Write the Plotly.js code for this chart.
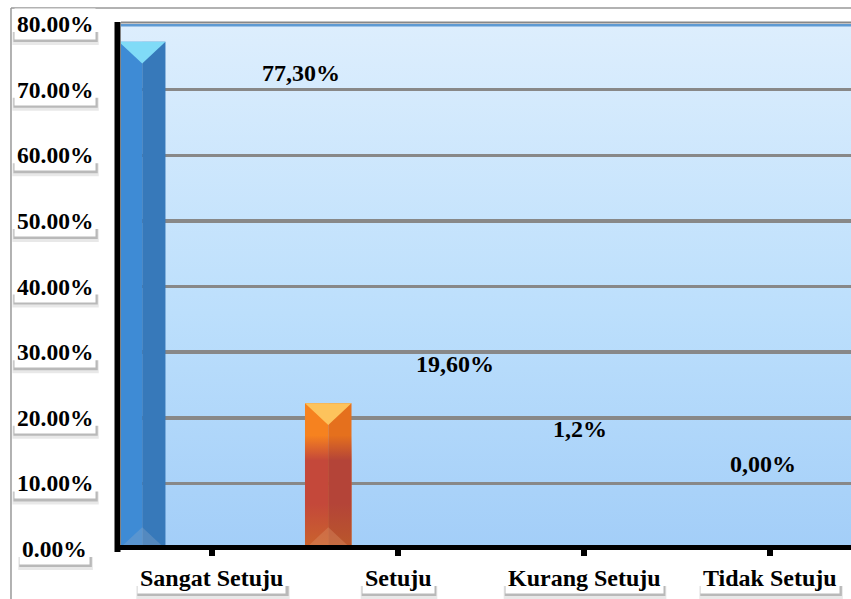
<!DOCTYPE html>
<html>
<head>
<meta charset="utf-8">
<script src="https://cdn.plot.ly/plotly-3.0.1.min.js"></script>
<style>html,body{margin:0;padding:0;background:#fff}#chart{width:851px;height:599px}</style>
</head>
<body>
<div id="chart"></div>
<script>
// ---- data ----
const categories = ['Sangat Setuju', 'Setuju', 'Kurang Setuju', 'Tidak Setuju'];
const barValues = [77.3, 22.2, 0, 0];
const valueLabels = ['77,30%', '19,60%', '1,2%', '0,00%'];
const yTickValues = [0, 10, 20, 30, 40, 50, 60, 70, 80];
const yTickLabels = ['0.00%', '10.00%', '20.00%', '30.00%', '40.00%', '50.00%', '60.00%', '70.00%', '80.00%'];

// ---- styles ----
const FONT = 'Liberation Serif';
const leftColors = ['#3e8bd5', '#f6821f', '#3e8bd5', '#3e8bd5'];
const rightColors = ['#3779ba', '#e5701d', '#3779ba', '#3779ba'];
const capColors = ['#80dbf7', '#fdc35c', '#80dbf7', '#80dbf7'];
const baseColors = ['rgba(140,170,200,0.35)', 'rgba(220,150,110,0.35)', 'rgba(0,0,0,0)', 'rgba(0,0,0,0)'];
const redShade = [false, true, false, false];
// placement (axis units) of the free-floating value labels
const labelOffsetX = [0.478, 0.306, -0.022, -0.038];
const labelPosY = [72.5, 28.2, 18.3, 13.0];

const XR = [-0.489, 3.435], YR = [0, 80];
const OFF = -0.5, HALF = 0.125, CAP = 3.3;

const cv = document.createElement('canvas').getContext('2d');
function textW(t, size) { cv.font = 'bold ' + size + 'px "Liberation Serif"'; return cv.measureText(t).width; }

const traces = [];
traces.push({
  type: 'bar', x: categories.map((c, i) => i), y: barValues,
  offset: OFF, width: HALF, marker: {color: leftColors, line: {width: 0}},
  hoverinfo: 'skip', showlegend: false
});
traces.push({
  type: 'bar', x: categories.map((c, i) => i), y: barValues,
  offset: OFF + HALF, width: HALF, marker: {color: rightColors, line: {width: 0}},
  hoverinfo: 'skip', showlegend: false
});
barValues.forEach((v, i) => {
  if (v <= 0) return;
  const l = i + OFF, m = i + OFF + HALF, r = i + OFF + 2 * HALF;
  if (redShade[i]) {
    const top = v * 0.78;
    traces.push({
      type: 'scatter', mode: 'lines', x: [l, m, m, l, l], y: [0, 0, top, top, 0],
      fill: 'toself', line: {width: 0},
      fillgradient: {type: 'vertical', start: 0, stop: top,
        colorscale: [[0, 'rgba(202,100,44,1)'], [0.4, 'rgba(196,72,58,1)'], [0.78, 'rgba(196,72,58,1)'], [1, 'rgba(196,72,58,0)']]},
      hoverinfo: 'skip', showlegend: false
    });
    traces.push({
      type: 'scatter', mode: 'lines', x: [m, r, r, m, m], y: [0, 0, top, top, 0],
      fill: 'toself', line: {width: 0},
      fillgradient: {type: 'vertical', start: 0, stop: top,
        colorscale: [[0, 'rgba(186,88,42,1)'], [0.4, 'rgba(180,68,56,1)'], [0.78, 'rgba(180,68,56,1)'], [1, 'rgba(180,68,56,0)']]},
      hoverinfo: 'skip', showlegend: false
    });
  }
  traces.push({
    type: 'scatter', mode: 'lines', x: [l, r, m, l], y: [v, v, v - CAP, v],
    fill: 'toself', fillcolor: capColors[i], line: {width: 0},
    hoverinfo: 'skip', showlegend: false
  });
  traces.push({
    type: 'scatter', mode: 'lines', x: [l, r, m, l], y: [0, 0, CAP, 0],
    fill: 'toself', fillcolor: baseColors[i], line: {width: 0},
    hoverinfo: 'skip', showlegend: false
  });
});

const annotations = [];
const shadowShapes = [];
function boxed(px, py, text, size) {
  const hw = textW(text, size) / 2 + 3;
  shadowShapes.push({type: 'rect', xref: 'paper', yref: 'paper', xsizemode: 'pixel', ysizemode: 'pixel',
    xanchor: px, yanchor: py, x0: -hw - 1, x1: hw + 3, y0: -8, y1: -21,
    fillcolor: 'rgba(0,0,0,0.09)', line: {width: 0}, layer: 'above'});
  shadowShapes.push({type: 'rect', xref: 'paper', yref: 'paper', xsizemode: 'pixel', ysizemode: 'pixel',
    xanchor: px, yanchor: py, x0: -hw, x1: hw + 2, y0: -8, y1: -18,
    fillcolor: 'rgba(0,0,0,0.2)', line: {width: 0}, layer: 'above'});
  annotations.push({xref: 'paper', yref: 'paper', x: px, y: py, xanchor: 'center', yanchor: 'middle',
    text: text, font: {family: FONT, size: size, color: '#000', weight: 700},
    bgcolor: '#ffffff', borderpad: 2, showarrow: false});
}
yTickValues.forEach((v, i) => boxed(-0.091, (v - YR[0]) / (YR[1] - YR[0]), yTickLabels[i], 23.5));
categories.forEach((c, i) => boxed((i - XR[0]) / (XR[1] - XR[0]), -0.055, c, 24));
valueLabels.forEach((t, i) => {
  annotations.push({xref: 'x', yref: 'y', x: i + labelOffsetX[i], y: labelPosY[i], text: t,
    font: {family: FONT, size: 24, color: '#000', weight: 700}, showarrow: false, xanchor: 'center', yanchor: 'middle'});
});

const bgSvg = '<svg xmlns="http://www.w3.org/2000/svg" width="100" height="100" preserveAspectRatio="none">' +
  '<defs><linearGradient id="g" x1="0" y1="0" x2="0" y2="1">' +
  '<stop offset="0" stop-color="#ddeefd"/><stop offset="0.55" stop-color="#bcdffc"/><stop offset="1" stop-color="#a3cef8"/>' +
  '</linearGradient></defs><rect width="100" height="100" fill="url(#g)"/></svg>';

const layout = {
  width: 851, height: 599,
  margin: {l: 121, r: 0, t: 24, b: 50, pad: 0},
  paper_bgcolor: '#ffffff', plot_bgcolor: 'rgba(0,0,0,0)',
  barmode: 'overlay', showlegend: false,
  xaxis: {range: XR, tickvals: categories.map((c, i) => i), showticklabels: false,
    ticks: 'outside', ticklen: 6, tickwidth: 6, tickcolor: '#000',
    showgrid: false, zeroline: false, showline: false, fixedrange: true},
  yaxis: {range: YR, tickvals: yTickValues, showticklabels: false, ticks: '',
    showgrid: true, gridcolor: '#888888', gridwidth: 3.5, zeroline: false, showline: false, fixedrange: true},
  images: [{source: 'data:image/svg+xml;charset=utf-8,' + encodeURIComponent(bgSvg),
    xref: 'paper', yref: 'paper', x: 0, y: 1, sizex: 1, sizey: 1, sizing: 'stretch',
    xanchor: 'left', yanchor: 'top', layer: 'below'}],
  shapes: [
    // outer frame
    {type: 'line', xref: 'paper', yref: 'paper', x0: -0.1507, x1: -0.1507, y0: 1.0305, y1: -0.1, line: {color: '#999999', width: 1.5}},
    {type: 'line', xref: 'paper', yref: 'paper', x0: -0.1507, x1: 1.01, y0: 1.0305, y1: 1.0305, line: {color: '#999999', width: 1.5}},
    // top edge: grey line with blue strip below
    {type: 'line', xref: 'paper', yref: 'paper', x0: 0, x1: 1, y0: 1.003, y1: 1.003, line: {color: '#888888', width: 2}, layer: 'above'},
    {type: 'line', xref: 'paper', yref: 'paper', x0: 0, x1: 1, y0: 0.9975, y1: 0.9975, line: {color: '#5e9ad3', width: 2.5}, layer: 'above'},
    // axis lines
    {type: 'line', xref: 'paper', yref: 'paper', x0: -0.0048, x1: -0.0048, y0: 1.004, y1: -0.0057, line: {color: '#000', width: 6}, layer: 'above'},
    {type: 'line', xref: 'paper', yref: 'paper', x0: -0.0082, x1: 1.0, y0: 0.0029, y1: 0.0029, line: {color: '#000', width: 5}, layer: 'above'}
  ].concat(shadowShapes),
  annotations: annotations
};

Plotly.newPlot('chart', traces, layout, {staticPlot: true, displayModeBar: false});
</script>
</body>
</html>
